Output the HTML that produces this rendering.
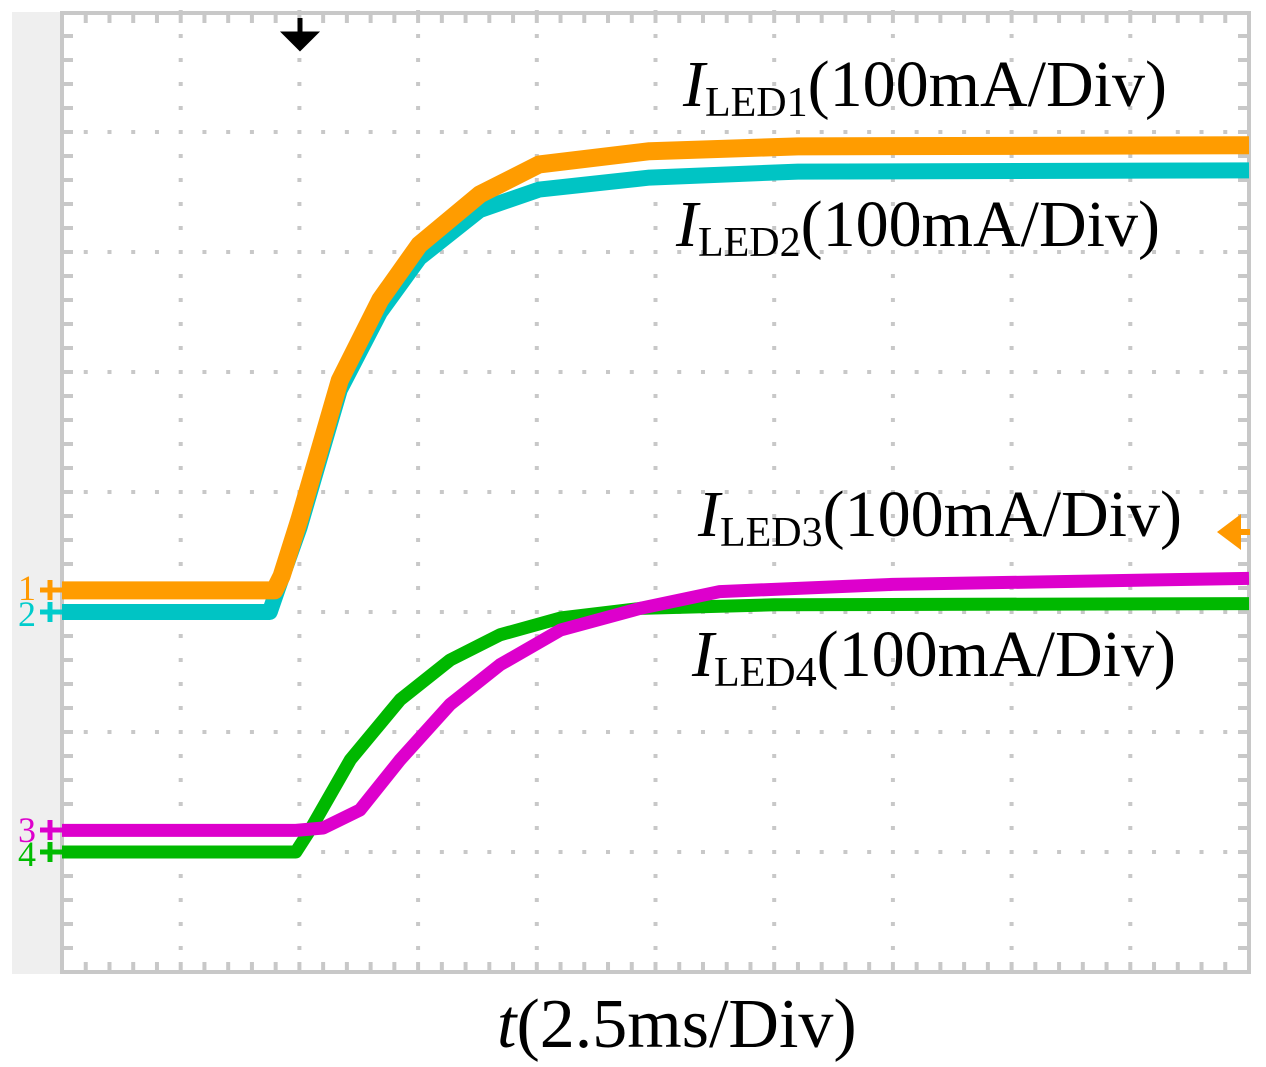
<!DOCTYPE html>
<html><head><meta charset="utf-8"><style>
body{margin:0;background:#fff}
svg{display:block}
text{font-family:"Liberation Serif",serif}
</style></head><body>
<svg id="c" width="1266" height="1067">
<rect x="12" y="12" width="50" height="962" fill="#efefef"/>
<g id="grid"></g>
<rect x="62" y="13" width="1187" height="959" fill="none" stroke="#c8c8c8" stroke-width="4"/>
<g id="series"></g>
<path d="M300 18 V44 M286 34 L314 34 L300 48 Z" stroke="#000" stroke-width="5" fill="#000"/>
<path d="M1222 532 L1238 520 V544 Z M1236 532 H1250" stroke="#f90" fill="#f90" stroke-width="6"/>
<g font-size="36" font-family="Liberation Sans">
<text x="18" y="600" fill="#f90">1</text>
<text x="18" y="626" fill="#0cc">2</text>
<text x="18" y="842" fill="#d0c">3</text>
<text x="18" y="866" fill="#0b0">4</text>
<path d="M40 590 H62 M50 580 V600" stroke="#f90" stroke-width="5"/>
<path d="M40 612 H62 M50 602 V622" stroke="#0cc" stroke-width="5"/>
<path d="M40 830 H62 M50 820 V840" stroke="#d0c" stroke-width="5"/>
<path d="M40 852 H62 M50 842 V862" stroke="#0b0" stroke-width="5"/>
</g>
<g font-size="66" fill="#000">
<text x="683" y="106"><tspan font-style="italic">I</tspan><tspan font-size="42" dy="10">LED1</tspan><tspan dy="-10">(100mA/Div)</tspan></text>
<text x="676" y="246"><tspan font-style="italic">I</tspan><tspan font-size="42" dy="10">LED2</tspan><tspan dy="-10">(100mA/Div)</tspan></text>
<text x="698" y="536"><tspan font-style="italic">I</tspan><tspan font-size="42" dy="10">LED3</tspan><tspan dy="-10">(100mA/Div)</tspan></text>
<text x="692" y="676"><tspan font-style="italic">I</tspan><tspan font-size="42" dy="10">LED4</tspan><tspan dy="-10">(100mA/Div)</tspan></text>
<text x="497" y="1047" font-size="70"><tspan font-style="italic">t</tspan>(2.5ms/Div)</text>
</g>
</svg>
<script>
const tLED1=[0,1.79,1.85,2.0,2.34,2.68,3.01,3.52,4.02,4.95,6.2,10];
const iLED1=[3.18,3.18,3.3,3.77,4.93,5.6,6.06,6.48,6.73,6.84,6.88,6.89];
const tLED2=[0,1.75,1.82,2.0,2.34,2.68,3.01,3.52,4.02,4.95,6.2,10];
const iLED2=[3.0,3.0,3.2,3.7,4.85,5.5,5.95,6.35,6.52,6.62,6.67,6.68];
const tLED3=[0,1.97,2.2,2.51,2.85,3.27,3.69,4.2,4.87,5.54,7.0,10];
const iLED3=[1.18,1.18,1.2,1.35,1.77,2.23,2.56,2.85,3.03,3.17,3.23,3.28];
const tLED4=[0,1.97,2.1,2.43,2.85,3.27,3.69,4.2,4.87,6.0,10];
const iLED4=[1.0,1.0,1.2,1.77,2.27,2.6,2.81,2.95,3.03,3.06,3.07];
const X0=62,X1=1249,Y0=972,Y1=12;
const xs=t=>X0+t*(X1-X0)/10, ys=v=>Y0-v*(Y0-Y1)/8;
const NS="http://www.w3.org/2000/svg";
const grid=document.getElementById('grid');
let d="";
for(let i=1;i<10;i++){const x=xs(i);for(let k=0;k<=40;k++){const y=ys(k*0.2);d+=`M${x-2} ${y}h4`;}}
for(let j=1;j<8;j++){const y=ys(j);for(let k=0;k<=50;k++){const x=xs(k*0.2);d+=`M${x-2} ${y}h4`;}}
for(let k=1;k<50;k++){const x=xs(k*0.2);d+=`M${x} 15v8M${x} 970v-8`;}
for(let k=1;k<40;k++){const y=ys(k*0.2);d+=`M64 ${y}h9M1247 ${y}h-9`;}
const gp=document.createElementNS(NS,'path');
gp.setAttribute('d',d);gp.setAttribute('stroke','#c8c8c8');gp.setAttribute('stroke-width','4');


grid.appendChild(gp);
const sg=document.getElementById('series');
function draw(T,V,col,w,name){
  const p=document.createElementNS(NS,'polyline');
  p.setAttribute('points',T.map((t,i)=>xs(t)+','+ys(V[i])).join(' '));
  p.setAttribute('fill','none');p.setAttribute('stroke',col);p.setAttribute('stroke-width',w);
  p.setAttribute('stroke-linejoin','round');
  
  
  sg.appendChild(p);
}
draw(tLED2,iLED2,'#00c4c4',16,'series-iled2');
draw(tLED1,iLED1,'#ff9c00',18,'series-iled1');
draw(tLED4,iLED4,'#00b800',13,'series-iled4');
draw(tLED3,iLED3,'#dd00cc',13,'series-iled3');
</script>
</body></html>
